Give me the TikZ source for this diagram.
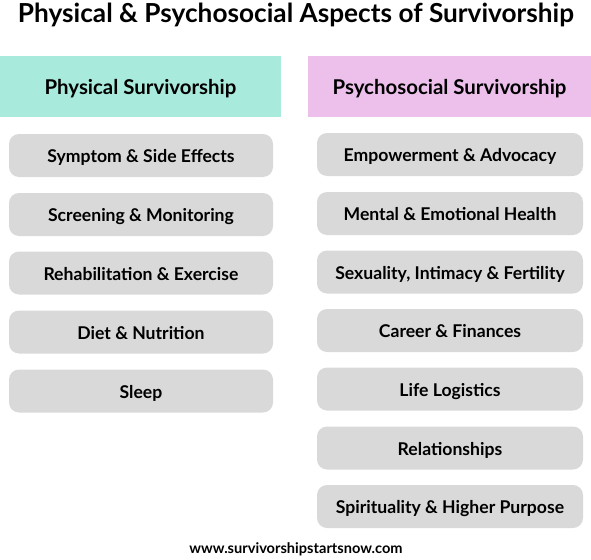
\documentclass[tikz,border=0pt]{standalone}
\usepackage{fontspec}
\setmainfont{Lato}
\usetikzlibrary{positioning}
\definecolor{physteal}{HTML}{A8EBDC}
\definecolor{psypink}{HTML}{ECC0EB}
\definecolor{itemgray}{HTML}{D9D9D9}
\tikzset{
  header/.style={rectangle,inner sep=0pt,minimum height=61pt,text height=17pt,text depth=1.3pt,font=\fontsize{20.4}{24}\selectfont\bfseries},
  item/.style={rectangle,rounded corners=10pt,fill=itemgray,inner sep=0pt,minimum height=43pt,text height=16pt,text depth=1.5pt,font=\fontsize{17.6}{20}\selectfont\bfseries}
}
\begin{document}
\begin{tikzpicture}[x=1pt,y=-1pt]
  \useasboundingbox (0,0) rectangle (591,559);
  % title
  \node[font=\fontsize{26.2}{30}\selectfont\bfseries] (title) at (296,15) {Physical \& Psychosocial Aspects of Survivorship};
  % column headers
  \node[header,fill=physteal,minimum width=281pt] (phys) at (140.5,86.5) {Physical Survivorship};
  \node[header,fill=psypink,minimum width=283pt] (psy) at (449.5,86.5) {Psychosocial Survivorship};
  % physical items
  \node[item,minimum width=264pt] (symptom) at (141,155.5) {Symptom \& Side Effects};
  \node[item,minimum width=264pt] (screening) at (141,214.5) {Screening \& Monitoring};
  \node[item,minimum width=264pt] (rehab) at (141,273) {Rehabilitation \& Exercise};
  \node[item,minimum width=264pt] (diet) at (141,332) {Diet \& Nutrition};
  \node[item,minimum width=264pt] (sleep) at (141,391) {Sleep};
  % psychosocial items
  \node[item,minimum width=266pt] (empower) at (450,154.5) {Empowerment \& Advocacy};
  \node[item,minimum width=266pt] (mental) at (450,213.5) {Mental \& Emotional Health};
  \node[item,minimum width=266pt] (sexuality) at (450,272) {Sexuality, Intimacy \& Fertility};
  \node[item,minimum width=266pt] (career) at (450,330.5) {Career \& Finances};
  \node[item,minimum width=266pt] (logistics) at (450,389) {Life Logistics};
  \node[item,minimum width=266pt] (relations) at (450,448) {Relationships};
  \node[item,minimum width=266pt] (spirit) at (450,506.5) {Spirituality \& Higher Purpose};
  % footer
  \node[font=\fontsize{14.6}{17}\selectfont\bfseries] (site) at (296,549) {www.survivorshipstartsnow.com};
\end{tikzpicture}
\end{document}
